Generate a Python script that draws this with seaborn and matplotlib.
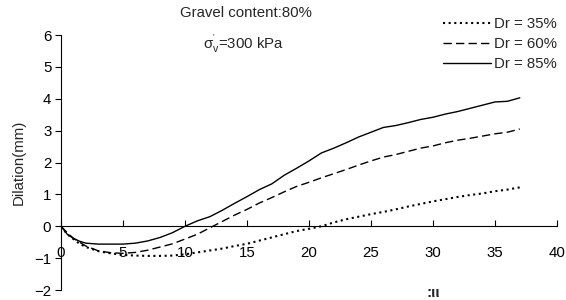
import matplotlib
matplotlib.use("Agg")
import matplotlib.pyplot as plt
import seaborn as sns
import pandas as pd

x_vals = [0, 0.5, 1, 1.5, 2, 3, 4, 5, 6, 7, 8, 9, 10, 11, 12, 13, 14, 15, 16, 17, 18,
          19, 20, 21, 22, 23, 24, 25, 26, 27, 28, 29, 30, 31, 32, 33, 34, 35, 36, 37]
dr35 = [0, -0.25, -0.4, -0.55, -0.65, -0.78, -0.85, -0.9, -0.92, -0.93, -0.93, -0.92, -0.88,
        -0.82, -0.76, -0.7, -0.62, -0.55, -0.45, -0.35, -0.25, -0.15, -0.08, 0.0, 0.12, 0.22,
        0.3, 0.38, 0.45, 0.53, 0.62, 0.7, 0.78, 0.85, 0.92, 0.98, 1.03, 1.1, 1.15, 1.22]
dr60 = [0, -0.2, -0.38, -0.5, -0.62, -0.77, -0.83, -0.85, -0.82, -0.75, -0.65, -0.55, -0.4,
        -0.25, -0.05, 0.15, 0.35, 0.53, 0.73, 0.9, 1.08, 1.25, 1.38, 1.52, 1.65, 1.78, 1.92,
        2.05, 2.17, 2.25, 2.35, 2.45, 2.52, 2.62, 2.7, 2.76, 2.83, 2.9, 2.95, 3.05]
dr85 = [0, -0.25, -0.38, -0.47, -0.53, -0.56, -0.56, -0.56, -0.53, -0.46, -0.35, -0.2, 0,
        0.17, 0.3, 0.5, 0.72, 0.93, 1.15, 1.33, 1.6, 1.82, 2.05, 2.3, 2.45, 2.62, 2.8, 2.95,
        3.1, 3.16, 3.25, 3.35, 3.42, 3.52, 3.6, 3.7, 3.8, 3.9, 3.92, 4.03]
series_labels = ["Dr = 35%", "Dr = 60%", "Dr = 85%"]
x_ticks = [0, 5, 10, 15, 20, 25, 30, 35, 40]
y_ticks = [-2, -1, 0, 1, 2, 3, 4, 5, 6]

df = pd.DataFrame({
    "x": x_vals * 3,
    "y": dr35 + dr60 + dr85,
    "Dr": [series_labels[0]] * len(x_vals) + [series_labels[1]] * len(x_vals) + [series_labels[2]] * len(x_vals),
})

sns.set_style("white")
plt.rcParams['font.family'] = ['Liberation Sans', 'DejaVu Sans']
plt.rcParams['mathtext.fontset'] = 'custom'
plt.rcParams['mathtext.rm'] = 'Liberation Sans'
plt.rcParams['mathtext.it'] = 'Liberation Sans'

FS = 10.8

fig = plt.figure(figsize=(5.66, 3.0), dpi=100)
ax = fig.add_axes([0.1078, 0.0333, 0.8763, 0.85])

dashes = {series_labels[0]: (1, 1.7), series_labels[1]: (6, 3), series_labels[2]: ""}
sns.lineplot(data=df, x="x", y="y", style="Dr", dashes=dashes, color="black",
             linewidth=1.0, ax=ax, legend=False)

lines = [l for l in ax.get_lines()][:3]
lines[0].set_linewidth(1.5)
for l, lab in zip(lines, series_labels):
    l.set_label(lab)

ax.set_xlim(0, 40)
ax.set_ylim(-2, 6)
ax.set_xticks(x_ticks)
ax.set_yticks(y_ticks)
ax.set_xlabel("")
ax.set_ylabel("Dilation(mm)", fontsize=FS, labelpad=6)

for s in ["top", "right"]:
    ax.spines[s].set_visible(False)
ax.spines["bottom"].set_position(("data", 0))
for s in ["left", "bottom"]:
    ax.spines[s].set_color("black")
    ax.spines[s].set_linewidth(0.8)

ax.tick_params(axis="x", direction="in", length=4, width=0.8, pad=14, labelsize=FS, colors="black", bottom=True)
ax.tick_params(axis="y", direction="out", length=4, width=0.8, pad=3, labelsize=FS, colors="black", left=True)

leg = ax.legend(handles=lines, labels=series_labels, loc="upper right", bbox_to_anchor=(1.0, 1.069),
                frameon=False, fontsize=FS, handlelength=3.2, handletextpad=0.2, labelspacing=0.4,
                borderaxespad=0, borderpad=0)

fig.text(0.435, 0.957, "Gravel content:80%", ha="center", va="center", fontsize=FS)
fig.text(0.43, 0.853, r"σ$_{\rm v}^{'}$=300 kPa", ha="center", va="center", fontsize=FS)
fig.text(0.765, 0.0, ":ιι", ha="center", va="bottom", fontsize=11, fontweight="bold")

fig.savefig("out.png", dpi=100)
